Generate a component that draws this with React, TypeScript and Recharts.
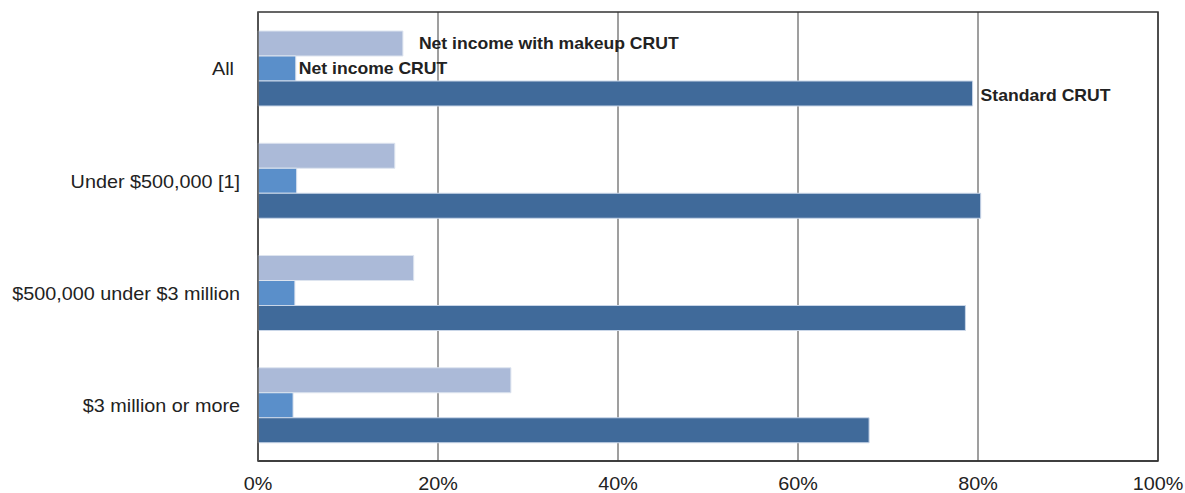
import { BarChart, Bar, XAxis, YAxis, CartesianGrid, ReferenceArea, LabelList } from 'recharts';

const categories = ['All', 'Under $500,000 [1]', '$500,000 under $3 million', '$3 million or more'];
const makeupCrut = [16.1, 15.2, 17.3, 28.1];
const netIncomeCrut = [4.2, 4.3, 4.1, 3.9];
const standardCrut = [79.4, 80.3, 78.6, 67.9];
const xTicks = [0, 20, 40, 60, 80, 100];

const data = categories.map((c, i) => ({
  cat: c,
  makeup: makeupCrut[i],
  net: netIncomeCrut[i],
  standard: standardCrut[i],
}));

const FONT = '"Liberation Sans", Arial, sans-serif';
const SX = 1.1; // source image is a little stretched sideways

function YTick({ x, y, payload }: any) {
  const dx = payload.value === 'All' ? -6 : 0;
  return (
    <text transform={`translate(${x - 10 + dx},${y + 1}) scale(${SX},1)`} textAnchor="end" dominantBaseline="central"
      fontFamily={FONT} fontSize={18} fill="#222">{payload.value}</text>
  );
}

function XTick({ x, y, payload }: any) {
  return (
    <text transform={`translate(${x},${y + 15}) scale(${SX},1)`} textAnchor="middle" dominantBaseline="central"
      fontFamily={FONT} fontSize={18} fill="#222">{payload.value}%</text>
  );
}

// only the first group carries the series names
const seriesLabel = (text: string, gap: number, dy: number) => (props: any) => {
  const { x, y, width, height, index } = props;
  if (index !== 0) return null;
  return (
    <text transform={`translate(${x + width + gap},${y + height / 2 + dy}) scale(${SX},1)`} dominantBaseline="central"
      fontFamily={FONT} fontSize={16} fontWeight="bold" fill="#222">{text}</text>
  );
};

export default function App() {
  return (
    <div style={{ position: 'absolute', left: 0, top: 0, background: '#fff' }}>
      <BarChart width={1185} height={493} data={data} layout="vertical"
        margin={{ top: 12, right: 27, left: 0, bottom: 0 }} barGap={0} barCategoryGap="16.7%">
        <CartesianGrid horizontal={false} stroke="#7f7f7f" strokeWidth={1.5} />
        <XAxis type="number" domain={[0, 100]} ticks={xTicks} height={32} tick={<XTick />}
          tickLine={false} axisLine={{ stroke: '#333', strokeWidth: 1.5 }} />
        <YAxis type="category" dataKey="cat" width={258} tick={<YTick />} tickLine={false}
          axisLine={{ stroke: '#555', strokeWidth: 1.5 }} />
        <Bar dataKey="makeup" fill="#abbad8" stroke="#dde4ef" strokeWidth={1} barSize={25} isAnimationActive={false}>
          <LabelList content={seriesLabel('Net income with makeup CRUT', 16, 0)} />
        </Bar>
        <Bar dataKey="net" fill="#5a8fca" stroke="#dde4ef" strokeWidth={1} barSize={25} isAnimationActive={false}>
          <LabelList content={seriesLabel('Net income CRUT', 3, 0)} />
        </Bar>
        <Bar dataKey="standard" fill="#406a9a" stroke="#c9d6e8" strokeWidth={1} barSize={25} isAnimationActive={false}>
          <LabelList content={seriesLabel('Standard CRUT', 8, 2)} />
        </Bar>
        <ReferenceArea x1={0} x2={100} fill="none" stroke="#333" strokeWidth={1.5} ifOverflow="visible" />
      </BarChart>
    </div>
  );
}
